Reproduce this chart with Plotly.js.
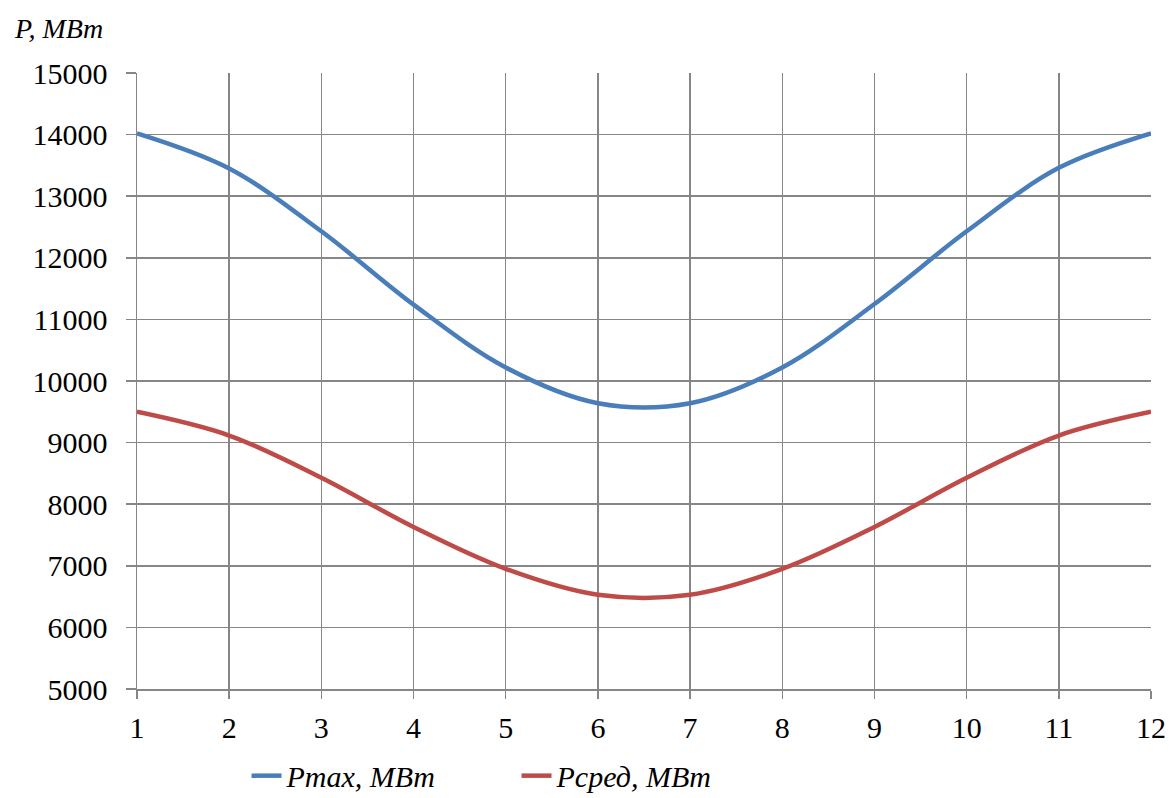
<!DOCTYPE html>
<html lang="ru">
<head>
<meta charset="utf-8">
<script src="https://cdn.plot.ly/plotly-3.0.1.min.js"></script>
<style>
html,body{margin:0;padding:0;background:#fff;}
#chart{width:1169px;height:798px;}
</style>
</head>
<body>
<div id="chart"></div>
<script>
const months = [1, 2, 3, 4, 5, 6, 7, 8, 9, 10, 11, 12];
const pMax = [14020, 13450, 12430, 11240, 10220, 9640, 9640, 10220, 11250, 12430, 13460, 14020];
const pAvg = [9500, 9115, 8430, 7630, 6950, 6530, 6530, 6950, 7630, 8430, 9115, 9500];
const seriesNames = ["Pmax, MBm", "Pсред, MBm"];
const yTitle = "P, MBm";

const fontFam = "Liberation Serif";
const gridCol = "#868686";

const traces = [
  {x: months, y: pMax, name: seriesNames[0], type: "scatter", mode: "lines",
   line: {color: "#4A7EBB", width: 4.5, shape: "spline", smoothing: 1}},
  {x: months, y: pAvg, name: seriesNames[1], type: "scatter", mode: "lines",
   line: {color: "#BE4B48", width: 4.5, shape: "spline", smoothing: 1}}
];

const layout = {
  width: 1169, height: 798,
  margin: {l: 137, r: 18, t: 73, b: 109, autoexpand: false},
  paper_bgcolor: "#fff", plot_bgcolor: "#fff",
  font: {family: fontFam, size: 30, color: "#000"},
  showlegend: true,
  legend: {orientation: "h", x: 0.108, xanchor: "left", yref: "container", y: 0.028, yanchor: "middle",
           entrywidth: 225, font: {family: fontFam, size: 30, style: "italic", color: "#000"},
           bgcolor: "rgba(0,0,0,0)"},
  xaxis: {range: [1, 12], tickvals: months, ticktext: months.map(String),
          showgrid: true, gridcolor: gridCol, gridwidth: 1.5,
          showline: true, linecolor: gridCol, linewidth: 1.5,
          ticks: "outside", ticklen: 8, tickcolor: gridCol, tickwidth: 1.5,
          zeroline: false, fixedrange: true, automargin: false, ticklabelstandoff: 3,
          tickfont: {family: fontFam, size: 30, color: "#000"}},
  yaxis: {range: [5000, 15000], dtick: 1000, tick0: 5000, tickformat: "d",
          showgrid: true, gridcolor: gridCol, gridwidth: 1.5,
          showline: true, linecolor: gridCol, linewidth: 1.5,
          ticks: "outside", ticklen: 10, tickcolor: gridCol, tickwidth: 1.5,
          zeroline: false, fixedrange: true, ticklabelstandoff: 12, automargin: false,
          tickfont: {family: fontFam, size: 30, color: "#000"}},
  annotations: [
    {text: yTitle, xref: "paper", yref: "paper", x: -0.123, y: 1.073,
     xanchor: "left", yanchor: "middle", showarrow: false,
     font: {family: fontFam, size: 28, style: "italic", color: "#000"}}
  ]
};

Plotly.newPlot("chart", traces, layout, {displayModeBar: false, staticPlot: true});
</script>
</body>
</html>
